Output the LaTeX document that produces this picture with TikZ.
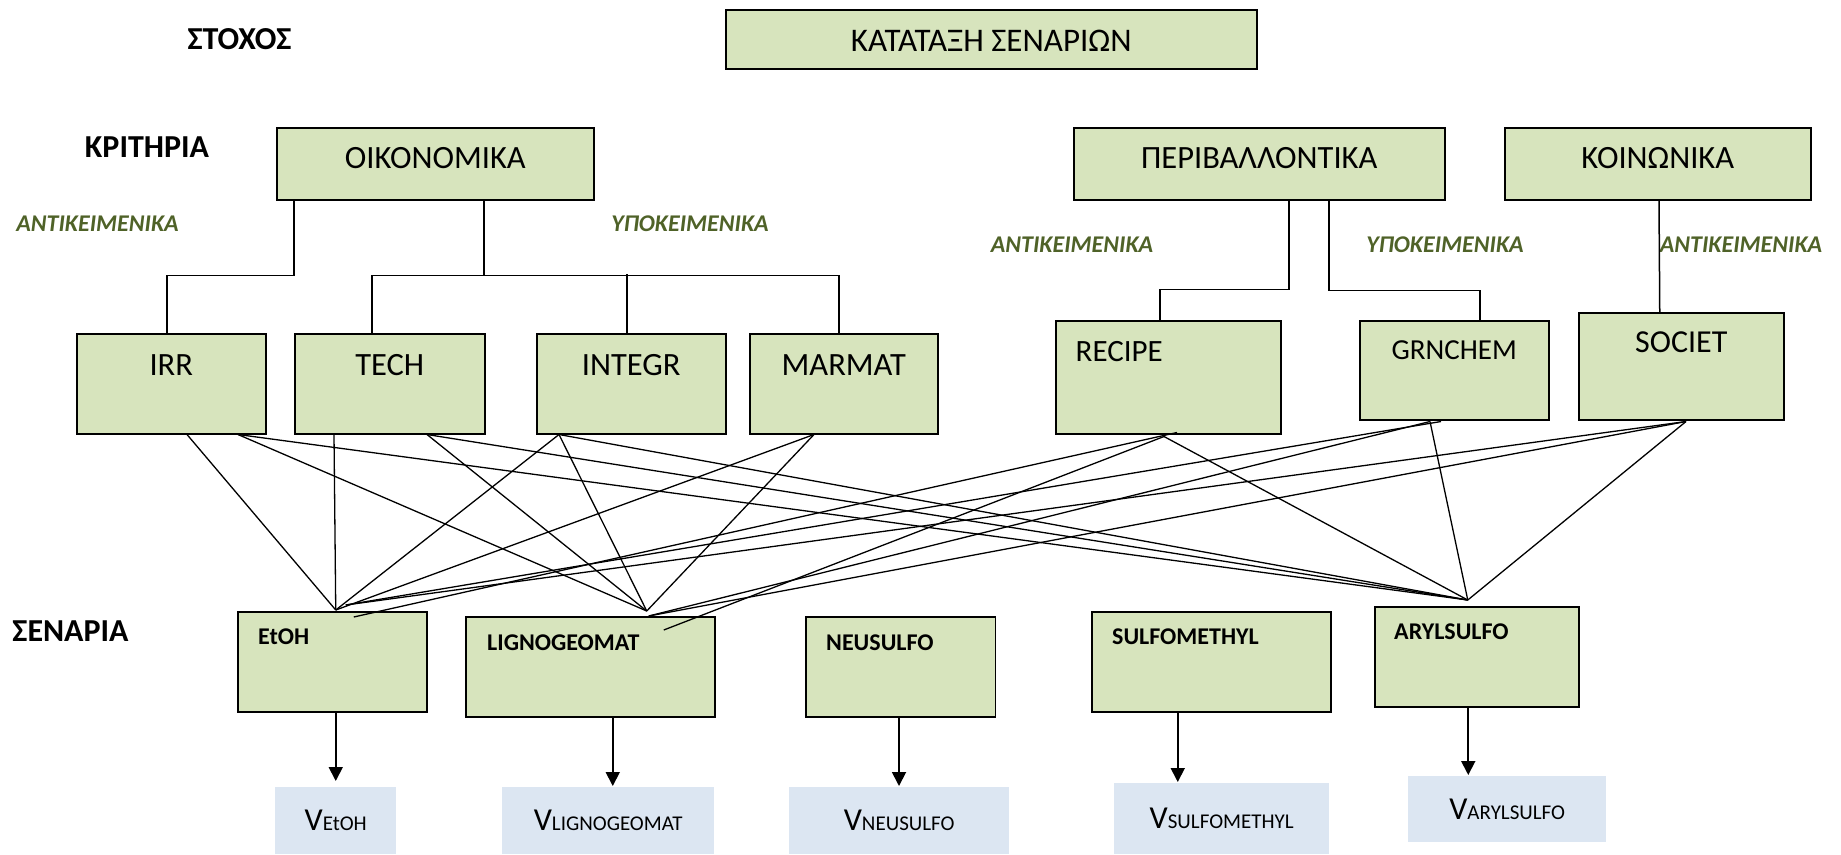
\documentclass[tikz,border=0pt]{standalone}
\usepackage{fontspec}
\setmainfont{Carlito}
\usetikzlibrary{calc, arrows.meta}
\definecolor{boxgreen}{HTML}{D7E4BD}
\definecolor{boxblue}{HTML}{DCE6F2}
\definecolor{txtgreen}{HTML}{4F6228}
\newcommand{\fs}[1]{\fontsize{#1}{#1}\selectfont}

\begin{document}
\begin{tikzpicture}[x=1pt,y=-1pt,inner sep=0pt,
  gbox/.style={draw,line width=1.5pt,fill=boxgreen,anchor=north west},
  vbox/.style={fill=boxblue,anchor=north west,font=\fs{32}},
  ctxt/.style={anchor=base,font=\fs{32.5}},
  stxt/.style={anchor=base west,font=\fs{24}\bfseries},
  head/.style={font=\fs{32}\bfseries},
  kind/.style={font=\fs{24}\bfseries\itshape,text=txtgreen},
  tree/.style={line width=1.5pt},
  link/.style={line width=1.3pt},
  arr/.style={line width=1.8pt,-{Triangle[length=14pt,width=14pt]},shorten >=1pt}]
\useasboundingbox (0,0) rectangle (1841,854);

% goal
\node[head] (goal) at (239.5,39) {ΣΤΟΧΟΣ};
\node[gbox,minimum width=531,minimum height=59,label={[ctxt,font=\fs{33},yshift=-42]north:ΚΑΤΑΤΑΞΗ ΣΕΝΑΡΙΩΝ}] (rank) at (725,9) {};

% criteria
\node[head] (crit) at (147,147) {ΚΡΙΤΗΡΙΑ};
\node[gbox,minimum width=317,minimum height=72,label={[ctxt,yshift=-41]north:ΟΙΚΟΝΟΜΙΚΑ}] (econ) at (276,127) {};
\node[gbox,minimum width=371,minimum height=72,label={[ctxt,yshift=-41]north:ΠΕΡΙΒΑΛΛΟΝΤΙΚΑ}] (envi) at (1073,127) {};
\node[gbox,minimum width=306,minimum height=72,label={[ctxt,yshift=-41]north:ΚΟΙΝΩΝΙΚΑ}] (soci) at (1504,127) {};

\node[kind] (k1) at (97.5,224) {ΑΝΤΙΚΕΙΜΕΝΙΚΑ};
\node[kind] (k2) at (690,224) {ΥΠΟΚΕΙΜΕΝΙΚΑ};
\node[kind] (k3) at (1072,245) {ΑΝΤΙΚΕΙΜΕΝΙΚΑ};
\node[kind] (k4) at (1445,245) {ΥΠΟΚΕΙΜΕΝΙΚΑ};
\node[kind] (k5) at (1741,245) {ΑΝΤΙΚΕΙΜΕΝΙΚΑ};

% sub-criteria
\node[gbox,minimum width=189,minimum height=100,label={[ctxt,yshift=-42]north:IRR}] (irr) at (76,333) {};
\node[gbox,minimum width=190,minimum height=100,label={[ctxt,yshift=-42]north:TECH}] (tech) at (294,333) {};
\node[gbox,minimum width=189,minimum height=100,label={[ctxt,yshift=-42]north:INTEGR}] (integr) at (536,333) {};
\node[gbox,minimum width=188,minimum height=100,label={[ctxt,yshift=-42]north:MARMAT}] (marmat) at (749,333) {};
\node[gbox,minimum width=225,minimum height=113,label={[ctxt,anchor=base west,font=\fs{31},xshift=20.5,yshift=-41]north west:RECIPE}] (recipe) at (1055,320) {};
\node[gbox,minimum width=189,minimum height=99,label={[ctxt,font=\fs{29},yshift=-39]north:GRNCHEM}] (grnchem) at (1359,320) {};
\node[gbox,minimum width=205,minimum height=107,label={[ctxt,font=\fs{32},yshift=-40.5]north:SOCIET}] (societ) at (1578,312) {};

% scenarios
\node[head] (scen) at (70.5,631) {ΣΕΝΑΡΙΑ};
\node[gbox,minimum width=189,minimum height=100,label={[stxt,xshift=21,yshift=-33.5]north west:EtOH}] (etoh) at (237,611) {};
\node[gbox,minimum width=249,minimum height=100,label={[stxt,xshift=22,yshift=-34.5]north west:LIGNOGEOMAT}] (ligno) at (465,616) {};
\node[gbox,minimum width=189.5,minimum height=100,label={[stxt,xshift=21,yshift=-34.5]north west:NEUSULFO}] (neusulfo) at (805,616) {};
\node[gbox,minimum width=239,minimum height=100,label={[stxt,xshift=21,yshift=-33.5]north west:SULFOMETHYL}] (sulfo) at (1091,611) {};
\node[gbox,minimum width=204,minimum height=100,label={[stxt,xshift=20,yshift=-33.5]north west:ARYLSULFO}] (aryl) at (1374,606) {};

% values
\node[vbox,minimum width=121,minimum height=67] (vetoh) at (275,787) {V{\fs{21}EtOH}};
\node[vbox,minimum width=212,minimum height=67] (vligno) at (502,787) {V{\fs{21}LIGNOGEOMAT}};
\node[vbox,minimum width=220,minimum height=67] (vneusulfo) at (789,787) {V{\fs{21}NEUSULFO}};
\node[vbox,minimum width=215,minimum height=71] (vsulfo) at (1114,783) {V{\fs{21}SULFOMETHYL}};
\node[vbox,minimum width=198,minimum height=66] (varyl) at (1408,776) {V{\fs{21}ARYLSULFO}};

% hierarchy
\draw[tree] ($(econ.south west)+(18,0)$) -- ++(0,75) -| ($(irr.north)+(-4.5,0)$);
\draw[tree] ($(econ.south west)+(208,0)$) -- ++(0,75) coordinate (ej);
\draw[tree] ($(tech.north)+(-18,0)$) |- (ej) -| ($(marmat.north)+(-5,0)$);
\draw[tree] ($(integr.north)+(-4.5,0)$) -- ++(0,-59);
\draw[tree] ($(envi.south west)+(216,0)$) -- ++(0,89) -| ($(recipe.north)+(-8.5,0)$);
\draw[tree] ($(envi.south west)+(256,0)$) -- ++(0,90) -| ($(grnchem.north)+(25.5,0)$);
\draw[tree] ($(soci.south west)+(155,0)$) -- ($(societ.north)+(-21.5,0)$);

% ends of the links
\coordinate (irr-a) at ($(irr.south west)+(111,0)$);
\coordinate (irr-b) at ($(irr.south west)+(162,0)$);
\coordinate (tech-a) at ($(tech.south west)+(40,0)$);
\coordinate (tech-b) at ($(tech.south west)+(133,0)$);
\coordinate (integr-a) at ($(integr.south west)+(23,0)$);
\coordinate (marmat-a) at ($(marmat.south west)+(65,0)$);
\coordinate (recipe-a) at ($(recipe.south west)+(122,-2)$);
\coordinate (recipe-b) at ($(recipe.south west)+(109,2)$);
\coordinate (grnchem-a) at ($(grnchem.south west)+(71,1)$);
\coordinate (grnchem-b) at ($(grnchem.south west)+(82,1)$);
\coordinate (societ-a) at ($(societ.south west)+(108,1)$);
\coordinate (etoh-t) at ($(etoh.north)+(3.5,-1)$);
\coordinate (etoh-r) at ($(etoh.north)+(13.5,-6)$);
\coordinate (etoh-in) at ($(etoh.north)+(21.5,6)$);
\coordinate (ligno-t) at ($(ligno.north)+(56.5,-5)$);
\coordinate (ligno-r) at ($(ligno.north)+(58.5,0)$);
\coordinate (ligno-in) at ($(ligno.north)+(73.5,14)$);
\coordinate (aryl-t) at ($(aryl.north)+(-9,-6)$);

% links
\foreach \s in {irr-a,tech-a,integr-a,marmat-a} \draw[link] (\s) -- (etoh-t);
\foreach \s in {grnchem-b,societ-a} \draw[link] (\s) -- (etoh-r);
\draw[link] (recipe-a) -- (etoh-in);
\foreach \s in {irr-b,tech-b,integr-a,marmat-a} \draw[link] (\s) -- (ligno-t);
\foreach \s in {grnchem-a,societ-a} \draw[link] (\s) -- (ligno-r);
\draw[link] (recipe-b) -- (ligno-in);
\foreach \s in {irr-b,tech-b,integr-a,recipe-b,grnchem-a,societ-a} \draw[link] (\s) -- (aryl-t);

% values
\draw[arr,shorten >=6pt] ($(etoh.south)+(3.5,0)$) -- ($(etoh.south |- vetoh.north)+(3.5,0)$);
\draw[arr] ($(ligno.south)+(22.5,0)$) -- ($(ligno.south |- vligno.north)+(22.5,0)$);
\draw[arr] ($(neusulfo.south)+(-1.5,0)$) -- ($(neusulfo.south |- vneusulfo.north)+(-1.5,0)$);
\draw[arr] ($(sulfo.south)+(-33.5,0)$) -- ($(sulfo.south |- vsulfo.north)+(-33.5,0)$);
\draw[arr] ($(aryl.south)+(-8.5,0)$) -- ($(aryl.south |- varyl.north)+(-8.5,0)$);
\end{tikzpicture}
\end{document}
